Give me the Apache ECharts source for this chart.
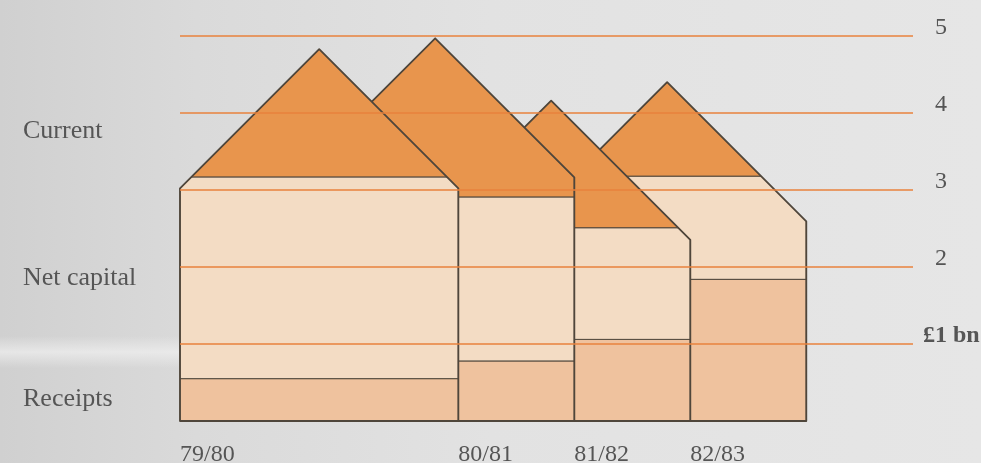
<!DOCTYPE html>
<html>
<head>
<meta charset="utf-8">
<script src="https://cdn.jsdelivr.net/npm/echarts@6/dist/echarts.min.js"></script>
<style>
  html, body { margin: 0; padding: 0; }
  #chart { width: 981px; height: 463px; }
</style>
</head>
<body>
<div id="chart"></div>
<script>
// public sector "houses": receipts + net capital + current, £bn per year
const categories = ['79/80', '80/81', '81/82', '82/83']
const widths = [2.4, 1, 1, 1]            // house widths (x units)
const receipts = [0.55, 0.78, 1.06, 1.84]
const netCapital = [2.62, 2.13, 1.45, 1.34]
const current = [1.66, 2.06, 1.65, 1.22]
const yTicks = [0, 1, 2, 3, 4, 5]
const bandNames = ['Current', 'Net capital', 'Receipts']

const ROOF_HALF = 1.2   // roof half-width in x units, 45deg slope
const colors = { current: '#e8954d', capital: '#f3dcc4', receipts: '#efc29e', edge: '#4f463b', grid: '#e8823c', text: '#555' }
const serif = '"Liberation Serif", "DejaVu Serif", serif'

const starts = []
widths.reduce((acc, w) => { starts.push(acc); return acc + w }, 0)

const houses = categories.map((c, i) => [
  starts[i], starts[i] + widths[i],
  receipts[i], receipts[i] + netCapital[i], receipts[i] + netCapital[i] + current[i]
])

// keep the part of a polygon with top <= y <= bottom (pixel coords)
function clipEdge(pts, inside, cross) {
  const out = []
  for (let k = 0; k < pts.length; k++) {
    const a = pts[k], b = pts[(k + 1) % pts.length]
    const ia = inside(a), ib = inside(b)
    if (ia) out.push(a)
    if (ia !== ib) out.push(cross(a, b))
  }
  return out
}
function clipBand(pts, top, bottom) {
  const atY = (y) => (a, b) => [a[0] + (b[0] - a[0]) * (y - a[1]) / (b[1] - a[1]), y]
  let p = clipEdge(pts, (q) => q[1] >= top, atY(top))
  p = clipEdge(p, (q) => q[1] <= bottom, atY(bottom))
  return p
}

function renderHouse(params, api) {
  const i = params.dataIndex
  const x0 = api.coord([api.value(0), 0])[0]
  const x1 = api.coord([api.value(1), 0])[0]
  const baseY = api.coord([0, 0])[1]
  const rY = api.coord([0, api.value(2)])[1]
  const cY = api.coord([0, api.value(3)])[1]
  const peakY = api.coord([0, api.value(4)])[1]
  const hw = api.size([ROOF_HALF, 0])[0]
  const wallY = peakY + hw
  const apexX = x1 - hw
  const left = Math.min(x0, apexX - hw)
  const sil = [[left, baseY], [x1, baseY], [x1, wallY], [apexX, peakY], [apexX - hw, wallY], [left, wallY]]
  const z = (categories.length - i) * 10
  const band = (top, bottom, fill, k) => ({
    type: 'polygon', z2: z + k,
    shape: { points: clipBand(sil, top, bottom) },
    style: { fill, stroke: colors.edge, lineWidth: 1 }
  })
  return {
    type: 'group',
    children: [
      band(rY, baseY, colors.receipts, 1),
      band(cY, rY, colors.capital, 2),
      band(peakY - 1, cY, colors.current, 3),
      { type: 'polygon', z2: z + 4, shape: { points: sil }, style: { fill: null, stroke: colors.edge, lineWidth: 1.8, lineJoin: 'round' } }
    ]
  }
}

const chart = echarts.init(document.getElementById('chart'))
chart.setOption({
  animation: false,
  backgroundColor: {
    type: 'linear', x: 0, y: 0, x2: 1, y2: 0,
    colorStops: [{ offset: 0, color: '#d0d0d0' }, { offset: 0.2, color: '#dadada' }, { offset: 0.5, color: '#e2e2e2' }, { offset: 1, color: '#e6e6e6' }]
  },
  grid: { left: 180, right: 68, top: 36, bottom: 42, outerBoundsMode: 'none' },
  xAxis: {
    type: 'value', min: 0, max: 6.32,
    axisLine: { show: false }, axisTick: { show: false }, splitLine: { show: false },
    axisLabel: {
      customValues: starts, align: 'left', margin: 22,
      color: colors.text, fontFamily: serif, fontSize: 24,
      formatter: (v) => categories[starts.indexOf(v)] ?? ''
    }
  },
  yAxis: [
    {
      type: 'value', min: 0, max: 5, interval: 1, position: 'right', z: 5,
      axisLine: { show: false }, axisTick: { show: false },
      splitLine: { lineStyle: { color: ['rgba(0,0,0,0)', colors.grid, colors.grid, colors.grid, colors.grid, colors.grid], width: 1.5 } },
      axisLabel: {
        margin: 22, align: 'left', verticalAlign: 'bottom', lineHeight: 16,
        color: colors.text, fontFamily: serif, fontSize: 24,
        formatter: (v) => (v >= 2 ? String(v) : '')
      }
    },
    {
      type: 'value', min: 0, max: 5, interval: 1, position: 'right',
      axisLine: { show: false }, axisTick: { show: false }, splitLine: { show: false },
      axisLabel: {
        margin: 10, align: 'left', verticalAlign: 'bottom', lineHeight: 16,
        color: colors.text, fontFamily: serif, fontSize: 24, fontWeight: 'bold',
        formatter: (v) => (v === 1 ? '£1 bn' : '')
      }
    }
  ],
  graphic: [
    { type: 'rect', silent: true, z: -1, shape: { x: 0, y: 336, width: 200, height: 32 },
      style: { fill: { type: 'linear', x: 0, y: 0, x2: 0, y2: 1, colorStops: [{ offset: 0, color: 'rgba(240,240,240,0)' }, { offset: 0.5, color: 'rgba(240,240,240,0.7)' }, { offset: 1, color: 'rgba(240,240,240,0)' }] } } },
    ...bandNames.map((name, k) => ({
      type: 'text', x: 23, y: [131, 278, 399][k],
      style: { text: name, fill: colors.text, font: '26px ' + serif, verticalAlign: 'middle' }
    }))
  ],
  series: [{
    type: 'custom',
    renderItem: renderHouse,
    encode: { x: [0, 1], y: [2, 3, 4] },
    data: houses,
    clip: false
  }]
})
window.addEventListener('resize', () => chart.resize())
</script>
</body>
</html>
